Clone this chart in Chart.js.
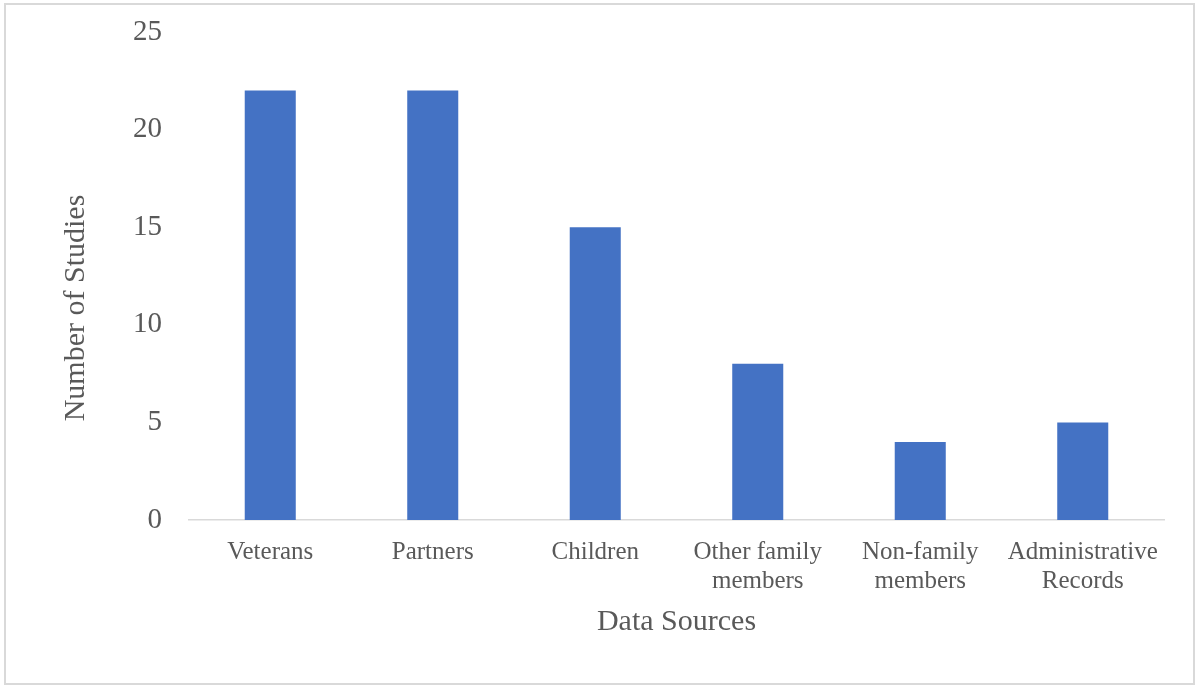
<!DOCTYPE html>
<html lang="en">
<head>
  <meta charset="UTF-8">
  <title>Number of Studies by Data Source</title>
  <script src="https://cdn.jsdelivr.net/npm/chart.js@4.4.1/dist/chart.umd.min.js"></script>
  <style>
    html, body { margin: 0; padding: 0; background: #fff; }
    #wrap { position: relative; width: 1200px; height: 687px; }
    #frame {
      position: absolute; left: 4px; top: 3px; width: 1187px; height: 678px;
      border: 2px solid #d9d9d9; pointer-events: none;
    }
  </style>
</head>
<body>
  <div id="wrap">
    <canvas id="sources-chart" width="1200" height="687"></canvas>
    <div id="frame"></div>
  </div>

  <script>
    // chart data
    const categories = [
      ["Veterans"],
      ["Partners"],
      ["Children"],
      ["Other family", "members"],
      ["Non-family", "members"],
      ["Administrative", "Records"]
    ];
    const studyCounts = [22, 22, 15, 8, 4, 5];
    const yTicks = [0, 5, 10, 15, 20, 25];

    const textColor = "#595959";
    const serif = "'Liberation Serif', 'Times New Roman', serif";

    // y axis title drawn by hand so it can sit a bit lower, like the original
    const yTitlePlugin = {
      id: "yTitle",
      afterDraw(chart) {
        const ctx = chart.ctx;
        ctx.save();
        ctx.fillStyle = textColor;
        ctx.font = "30px " + serif;
        ctx.textAlign = "center";
        ctx.textBaseline = "middle";
        ctx.translate(76, 308);
        ctx.rotate(-Math.PI / 2);
        ctx.fillText("Number of Studies", 0, 0);
        ctx.restore();
      }
    };

    const ctx = document.getElementById("sources-chart").getContext("2d");
    new Chart(ctx, {
      type: "bar",
      data: {
        labels: categories,
        datasets: [{
          label: "Number of Studies",
          data: studyCounts,
          backgroundColor: "#4472c4",
          barPercentage: 0.314,
          categoryPercentage: 1
        }]
      },
      options: {
        responsive: false,
        animation: false,
        layout: { padding: { top: 32, left: 57, right: 36, bottom: 47 } },
        plugins: {
          legend: { display: false },
          tooltip: { enabled: false }
        },
        scales: {
          x: {
            afterFit(scale) { scale.height = 120; },
            grid: { display: false, drawTicks: false },
            border: { color: "#d9d9d9", width: 1.5 },
            ticks: {
              color: textColor,
              font: { family: serif, size: 25, lineHeight: 1.15 },
              padding: 18,
              maxRotation: 0,
              autoSkip: false
            },
            title: {
              display: true,
              text: "Data Sources",
              color: textColor,
              font: { family: serif, size: 30, lineHeight: 1.2 },
              padding: { top: 0, bottom: 0 }
            }
          },
          y: {
            min: 0,
            max: 25,
            afterFit(scale) {
              scale.width = 132;
              // keep the label padding from pushing the plot top down
              scale.paddingTop = 0;
              scale.paddingBottom = 0;
            },
            afterBuildTicks(scale) { scale.ticks = yTicks.map(v => ({ value: v })); },
            grid: { display: false, drawTicks: false },
            border: { display: false },
            ticks: {
              color: textColor,
              font: { family: serif, size: 29 },
              padding: 27
            }
          }
        }
      },
      plugins: [yTitlePlugin]
    });
  </script>
</body>
</html>
